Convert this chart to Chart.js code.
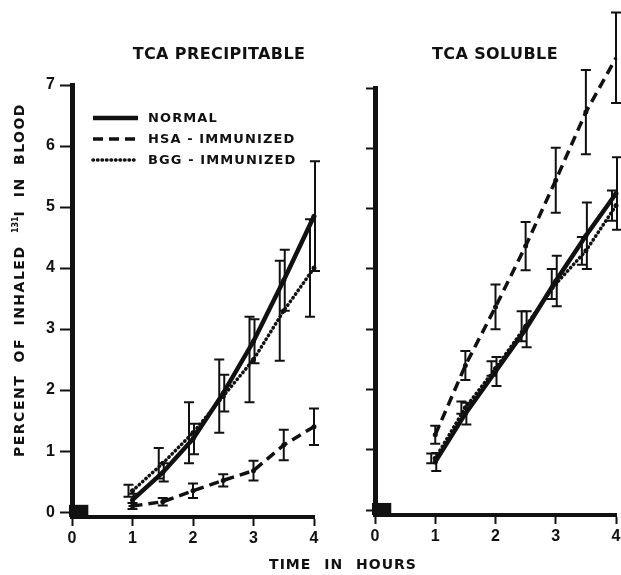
<!DOCTYPE html>
<html>
<head>
<meta charset="utf-8">
<script src="https://cdn.jsdelivr.net/npm/chart.js@4.4.1/dist/chart.umd.min.js"></script>
<style>
  body { margin: 0; background: #fff; width: 621px; height: 575px; overflow: hidden; position: relative;
         font-family: "DejaVu Sans", "Liberation Sans", Arial, sans-serif; font-weight: bold; color: #111; }
  .box { position: absolute; top: 0; height: 575px; }
  #left { left: 0; width: 330px; }
  #right { left: 330px; width: 300px; }
  .lbl { position: absolute; white-space: nowrap; transform: translate(-50%, -50%); }
  .lbl sup { font-size: 8px; vertical-align: 6px; letter-spacing: 0; }
</style>
</head>
<body>
<div class="box" id="left"><canvas id="precip"></canvas></div>
<div class="box" id="right"><canvas id="soluble"></canvas></div>
<div class="lbl" style="left:219px;top:53px;font-size:16px;letter-spacing:0.4px">TCA PRECIPITABLE</div>
<div class="lbl" style="left:495px;top:53px;font-size:16px;letter-spacing:0.4px">TCA SOLUBLE</div>
<div class="lbl" style="left:19px;top:280px;font-size:14px;letter-spacing:1.5px;word-spacing:6px;transform:translate(-50%,-50%) rotate(-90deg)">PERCENT OF INHALED <sup>131</sup>I IN BLOOD</div>
<div class="lbl" style="left:343px;top:564px;font-size:14px;letter-spacing:1px;word-spacing:7px">TIME IN HOURS</div>

<script>
const times = [1, 1.5, 2, 2.5, 3, 3.5, 4];
const yTicks = [0, 1, 2, 3, 4, 5, 6, 7];

// TCA precipitable
const normalPrec = [0.2, 0.65, 1.2, 1.95, 2.8, 3.8, 4.85];
const normalPrecErr = [0.1, 0.15, 0.25, 0.3, 0.36, 0.5, 0.9];
const hsaPrec = [0.1, 0.17, 0.35, 0.52, 0.68, 1.1, 1.4];
const hsaPrecErr = [0.05, 0.06, 0.12, 0.1, 0.16, 0.25, 0.3];
const bggPrec = [0.35, 0.8, 1.3, 1.9, 2.5, 3.3, 4.0];
const bggPrecErr = [0.1, 0.25, 0.5, 0.6, 0.7, 0.82, 0.8];

// TCA soluble
const normalSol = [0.8, 1.6, 2.3, 3.0, 3.8, 4.55, 5.25];
const normalSolErr = [0.15, 0.18, 0.24, 0.3, 0.42, 0.55, 0.6];
const hsaSol = [1.25, 2.4, 3.37, 4.38, 5.47, 6.6, 7.5];
const hsaSolErr = [0.15, 0.24, 0.37, 0.4, 0.54, 0.7, 0.75];
const bggSol = [0.86, 1.7, 2.35, 3.05, 3.75, 4.3, 5.05];
const bggSolErr = [0.08, 0.1, 0.12, 0.25, 0.25, 0.23, 0.25];

const ink = "#111";
const tickFont = { family: "'Liberation Sans', Arial, sans-serif", size: 16, weight: "bold" };

const styles = {
  NORMAL: { borderWidth: 4.5, borderDash: [], shift: 1 },
  "HSA - IMMUNIZED": { borderWidth: 3.5, borderDash: [10, 6], shift: 0 },
  "BGG - IMMUNIZED": { borderWidth: 3.5, borderDash: [0.5, 4], shift: -4 },
};

const makeSet = (label, vals, errs) => ({
  label,
  data: times.map((t, i) => ({ x: t, y: vals[i] })),
  errs,
  borderColor: ink,
  backgroundColor: ink,
  borderWidth: styles[label].borderWidth,
  borderDash: styles[label].borderDash,
  borderCapStyle: label.startsWith("BGG") ? "round" : "butt",
  shift: styles[label].shift,
  pointRadius: 2.5,
  pointBorderWidth: 0,
  pointBackgroundColor: ink,
  tension: 0,
  clip: false,
});

const errorBars = {
  id: "errorBars",
  afterDatasetsDraw(chart) {
    const { ctx, scales: { x, y } } = chart;
    ctx.save();
    ctx.strokeStyle = ink;
    ctx.lineWidth = 2;
    chart.data.datasets.forEach((ds) => {
      ds.data.forEach((p, i) => {
        const px = x.getPixelForValue(p.x) + ds.shift;
        const top = y.getPixelForValue(p.y + ds.errs[i]);
        const bot = y.getPixelForValue(p.y - ds.errs[i]);
        ctx.beginPath();
        ctx.moveTo(px, top); ctx.lineTo(px, bot);
        ctx.moveTo(px - 5, top); ctx.lineTo(px + 5, top);
        ctx.moveTo(px - 5, bot); ctx.lineTo(px + 5, bot);
        ctx.stroke();
      });
    });
    ctx.restore();
  },
};

// small filled block sitting on the origin in the original figure
const originBlock = {
  id: "originBlock",
  afterDraw(chart) {
    const { ctx, scales: { x, y } } = chart;
    const x0 = x.getPixelForValue(-0.05), x1 = x.getPixelForValue(0.27);
    const y0 = y.getPixelForValue(0.12), y1 = y.getPixelForValue(-0.08);
    ctx.save();
    ctx.fillStyle = ink;
    ctx.fillRect(x0, y0, x1 - x0, y1 - y0);
    ctx.restore();
  },
};

const keyBox = {
  id: "keyBox",
  afterDraw(chart) {
    const ctx = chart.ctx;
    ctx.save();
    ctx.fillStyle = ink;
    ctx.strokeStyle = ink;
    ctx.font = "bold 13px 'DejaVu Sans', Arial, sans-serif";
    ctx.letterSpacing = "1.1px";
    ctx.textBaseline = "middle";
    chart.data.datasets.forEach((ds, i) => {
      const ly = 118 + i * 21;
      ctx.lineWidth = ds.borderWidth;
      ctx.setLineDash(ds.borderDash);
      ctx.lineCap = ds.borderCapStyle;
      ctx.beginPath();
      ctx.moveTo(93, ly); ctx.lineTo(138, ly);
      ctx.stroke();
      ctx.fillText(ds.label, 148, ly + 1);
    });
    ctx.restore();
  },
};

const makeChart = (id, sets, opts) =>
  new Chart(document.getElementById(id), {
    type: "line",
    data: { datasets: sets },
    options: {
      responsive: true,
      maintainAspectRatio: false,
      animation: false,
      layout: { padding: opts.padding },
      plugins: { legend: { display: false }, tooltip: { enabled: false } },
      scales: {
        x: {
          type: "linear",
          min: 0,
          max: 4,
          afterBuildTicks: (s) => { s.ticks = [0, 1, 2, 3, 4].map((v) => ({ value: v })); },
          afterFit: (s) => { s.height = opts.xHeight; },
          ticks: { font: tickFont, color: ink, padding: 3 },
          grid: { drawOnChartArea: false, tickLength: 9, tickWidth: 2, tickColor: ink },
          border: { width: 4, color: ink },
        },
        y: {
          type: "linear",
          min: -0.08,
          max: 7,
          afterBuildTicks: (s) => { s.ticks = yTicks.map((v) => ({ value: v })); },
          afterFit: (s) => { s.width = opts.yWidth; },
          ticks: { display: opts.yLabels, font: tickFont, color: ink, padding: 5 },
          grid: { drawOnChartArea: false, tickLength: opts.yTick, tickWidth: 2, tickColor: ink },
          border: { width: 5, color: ink },
        },
      },
    },
    plugins: opts.plugins,
  });

makeChart(
  "precip",
  [
    makeSet("NORMAL", normalPrec, normalPrecErr),
    makeSet("HSA - IMMUNIZED", hsaPrec, hsaPrecErr),
    makeSet("BGG - IMMUNIZED", bggPrec, bggPrecErr),
  ],
  { padding: { left: 0, right: 16, top: 85, bottom: 0 }, xHeight: 58, yWidth: 72, yLabels: true, yTick: 12,
    plugins: [errorBars, originBlock, keyBox] }
);

makeChart(
  "soluble",
  [
    makeSet("NORMAL", normalSol, normalSolErr),
    makeSet("HSA - IMMUNIZED", hsaSol, hsaSolErr),
    makeSet("BGG - IMMUNIZED", bggSol, bggSolErr),
  ],
  { padding: { left: 0, right: 14, top: 88, bottom: 0 }, xHeight: 60, yWidth: 45, yLabels: false, yTick: 9,
    plugins: [errorBars, originBlock] }
);
</script>
</body>
</html>
